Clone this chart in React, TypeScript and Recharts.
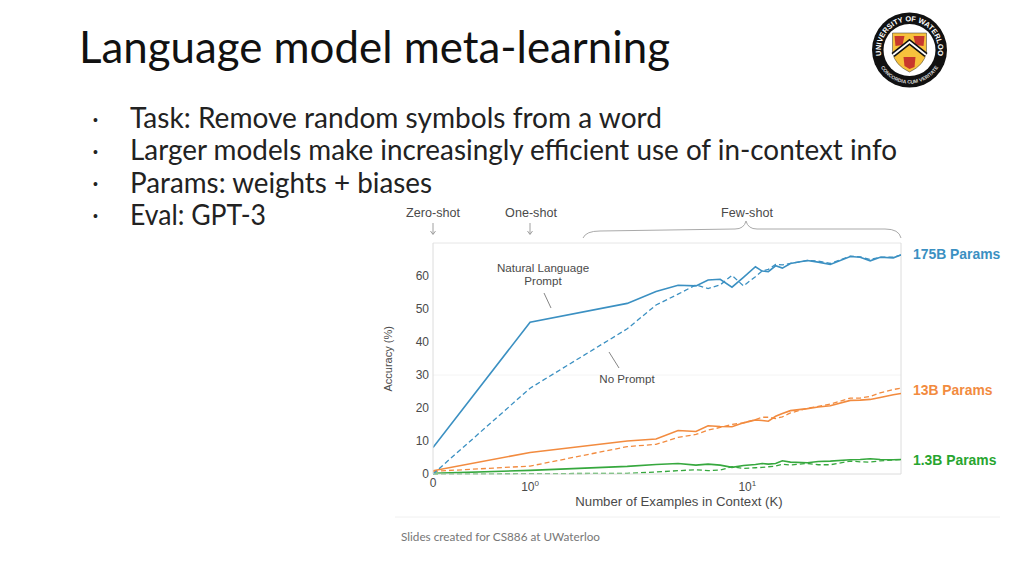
import React from "react";
import { LineChart, Line, XAxis, YAxis, ReferenceLine, Label } from "recharts";

const examplesK = [0, 1, 2.8, 3.8, 4.8, 5.8, 6.6, 7.5, 8.5, 9.6, 10.9, 11.7, 12.5, 13.5, 14.5, 15.8, 18.9, 21.2, 24.1, 29.8, 33.1, 36.8, 40.9, 47, 51];
const blueSolid = [8, 46, 51.7, 55.3, 57.2, 57, 58.8, 59, 56.6, 59.6, 62.8, 61.5, 61.3, 63.1, 62.4, 63.8, 64.7, 64.2, 63.5, 65.9, 65.7, 64.6, 65.7, 65.5, 66.4];
const blueDashed = [0, 26, 44, 51.2, 54.5, 57.3, 56.2, 57.3, 60.2, 57, 59.8, 61.5, 62, 63.5, 63.4, 63.8, 64.7, 64.5, 63.8, 66, 65.8, 65, 65.7, 65.7, 66.4];
const orangeSolid = [1, 6.5, 10, 10.6, 13.2, 12.9, 14.6, 14.4, 14.3, 15.5, 16.4, 16.2, 16, 17.5, 18.3, 19.2, 19.8, 20.3, 20.7, 22.3, 22.4, 22.6, 23.2, 24, 24.4];
const orangeDashed = [0.8, 2.4, 8.3, 9, 11.1, 12, 13.3, 14.1, 15, 15.5, 16.5, 17.2, 17.2, 16.8, 17.3, 18.5, 19.9, 20.5, 21.2, 23, 23, 23.5, 24.6, 25.6, 26];
const greenSolid = [0.2, 1.1, 2.3, 2.9, 3.2, 2.7, 3, 2.7, 2, 2.6, 2.9, 3.2, 3, 3.2, 4, 3.6, 3.4, 3.8, 3.9, 4.3, 4.4, 4.6, 4.4, 4.3, 4.4];
const greenDashed = [0, 0.1, 0.2, 0.6, 1, 1.3, 1, 1.2, 2.2, 1.7, 1.9, 2, 2.2, 2.4, 3, 2.7, 3.2, 2.8, 2.8, 3.9, 3.7, 3.6, 4, 4.2, 4.4];
const yTicks = [0, 10, 20, 30, 40, 50, 60];
const bullets = ["Task: Remove random symbols from a word", "Larger models make increasingly efficient use of in-context info", "Params: weights + biases", "Eval: GPT-3"];
const bulletWidths = [532, 767, 302, 136];

const ZERO_POS = -0.447;
const MAX_POS = Math.log10(51);
const pos = (k: number) => (k === 0 ? ZERO_POS : Math.log10(k));
const rows = examplesK.map((k, i) => ({
  x: pos(k),
  blueSolid: blueSolid[i],
  blueDashed: blueDashed[i],
  orangeSolid: orangeSolid[i],
  orangeDashed: orangeDashed[i],
  greenSolid: greenSolid[i],
  greenDashed: greenDashed[i],
}));

const BLUE = "#3b90c2";
const ORANGE = "#f28b3f";
const GREEN = "#36a83e";
const GREY = "#4a4a4a";
const ARIAL = '"Liberation Sans", Arial, sans-serif';
const LATO = 'Lato, "Open Sans", sans-serif';

function XTick(props: any) {
  const { x, y, payload } = props;
  const v = payload.value;
  if (v === ZERO_POS) {
    return <text x={x} y={y + 5} textAnchor="middle" fontSize={12} fill={GREY} fontFamily={ARIAL}>0</text>;
  }
  return (
    <text x={x} y={y + 9} textAnchor="middle" fontSize={12} fill={GREY} fontFamily={ARIAL}>
      10<tspan dy={-5} fontSize={8}>{v === 0 ? "0" : "1"}</tspan>
    </text>
  );
}

function Logo() {
  const cx = 909.5, cy = 50;
  return (
    <g>
      <defs>
        <path id="topArc" d={`M ${cx - 24.9} ${cy + 14} A 28.6 28.6 0 1 1 ${cx + 24.9} ${cy + 14}`} />
        <path id="botArc" d={`M ${cx - 31} ${cy + 13} A 33.6 33.6 0 0 0 ${cx + 31} ${cy + 13}`} />
      </defs>
      <circle cx={cx} cy={cy} r={37.5} fill="#111" />
      <circle cx={cx} cy={cy} r={26} fill="#fff" />
      <text fontSize={7.4} fill="#fff" fontFamily={ARIAL} fontWeight={700}>
        <textPath href="#topArc" startOffset="50%" textAnchor="middle">UNIVERSITY OF WATERLOO</textPath>
      </text>
      <text fontSize={5} fill="#ddd" fontFamily={ARIAL} fontWeight={700}>
        <textPath href="#botArc" startOffset="50%" textAnchor="middle">CONCORDIA CUM VERITATE</textPath>
      </text>
      <path d={`M ${cx - 17} 33 L ${cx + 17} 33 L ${cx + 17} 52 Q ${cx + 15} 65 ${cx} 72 Q ${cx - 15} 65 ${cx - 17} 52 Z`} fill="#f7c23c" stroke="#333" strokeWidth={0.5} />
      <path d={`M ${cx - 15} 36 L ${cx - 5} 36 L ${cx - 7} 45 L ${cx - 14} 46 Z`} fill="#c8382c" />
      <path d={`M ${cx + 4} 36 L ${cx + 15} 36 L ${cx + 14} 46 L ${cx + 6} 45 Z`} fill="#c8382c" />
      <path d={`M ${cx - 6} 57 L ${cx + 6} 57 L ${cx + 5} 67 L ${cx} 69 L ${cx - 5} 66 Z`} fill="#c8382c" />
      <path d={`M ${cx - 16.5} 55 L ${cx} 42 L ${cx + 16.5} 55`} fill="none" stroke="#111" strokeWidth={5} />
      <path d={`M ${cx - 16.5} 55 L ${cx} 42 L ${cx + 16.5} 55`} fill="none" stroke="#fff" strokeWidth={1.8} />
    </g>
  );
}

function Overlay() {
  const t = { fontFamily: ARIAL, fill: GREY, fontSize: 11.6 } as const;
  const h = { fontFamily: ARIAL, fill: GREY, fontSize: 12.6 } as const;
  return (
    <svg width={1024} height={576} style={{ position: "absolute", left: 0, top: 0, pointerEvents: "none" }}>
      <text x={79} y={63} fontFamily={LATO} fontSize={44} fill="#111" textLength={591} lengthAdjust="spacingAndGlyphs">Language model meta-learning</text>
      {bullets.map((b, i) => (
        <g key={b}>
          <text x={93} y={[125, 157, 189, 221][i]} fontFamily={ARIAL} fontSize={14} fill="#222">•</text>
          <text x={130} y={[128, 160, 193, 225][i]} fontFamily={LATO} fontSize={28} fill="#222" textLength={bulletWidths[i]} lengthAdjust="spacingAndGlyphs">{b}</text>
        </g>
      ))}
      <Logo />
      <text {...h} x={433} y={217} textAnchor="middle">Zero-shot</text>
      <text {...h} x={531} y={217} textAnchor="middle">One-shot</text>
      <text {...h} x={747} y={217} textAnchor="middle">Few-shot</text>
      <path d="M433 223V234M430.5 231L433 234.5L435.5 231M530 223V234M527.5 231L530 234.5L532.5 231" fill="none" stroke="#888" strokeWidth={0.8} />
      <path d="M583 238Q586 231 600 231L735 229Q744 229 746 221Q748 229 757 229L885 229Q899 229 901 238" fill="none" stroke="#aaa" strokeWidth={1} />
      <text {...t} x={543} y={272} textAnchor="middle">Natural Language</text>
      <text {...t} x={543} y={285} textAnchor="middle">Prompt</text>
      <path d="M544 293L551 308M609 352L619 368" stroke="#666" strokeWidth={0.8} />
      <text {...t} x={627} y={383} textAnchor="middle">No Prompt</text>
      <text x={913} y={259} fontFamily={ARIAL} fontSize={13.9} fontWeight={700} fill={BLUE}>175B Params</text>
      <text x={913} y={395} fontFamily={ARIAL} fontSize={13.9} fontWeight={700} fill={ORANGE}>13B Params</text>
      <text x={913} y={465} fontFamily={ARIAL} fontSize={13.9} fontWeight={700} fill="#27a52f">1.3B Params</text>
      <line x1={395} x2={1000} y1={517} y2={517} stroke="#f0f0f0" />
      <text x={401} y={541} fontFamily={LATO} fontSize={12} fill="#777" textLength={199} lengthAdjust="spacingAndGlyphs">Slides created for CS886 at UWaterloo</text>
    </svg>
  );
}

export default function App() {
  return (
    <div style={{ position: "absolute", left: 0, top: 0, width: 1024, height: 576, background: "#fff", overflow: "hidden" }}>
      <LineChart width={1024} height={576} data={rows} margin={{ top: 243, left: 393, right: 123, bottom: 62 }}>
        <XAxis
          dataKey="x"
          type="number"
          domain={[ZERO_POS, MAX_POS]}
          ticks={[ZERO_POS, 0, 1]}
          height={40}
          tick={<XTick />}
          tickLine={false}
          axisLine={{ stroke: "#dcdcdc" }}
          interval={0}
          allowDataOverflow
        >
          <Label value="Number of Examples in Context  (K)" position="insideBottom" offset={8} dx={12} fontSize={13.2} fill={GREY} fontFamily={ARIAL} />
        </XAxis>
        <YAxis
          type="number"
          domain={[0, 70]}
          ticks={yTicks}
          width={40}
          tickLine={false}
          tickMargin={1}
          axisLine={{ stroke: "#dcdcdc" }}
          tick={{ fontSize: 12, fill: GREY, fontFamily: ARIAL, dx: 3 }}
          interval={0}
        >
          <Label value="Accuracy (%)" angle={-90} position="insideLeft" offset={0} dx={-5} dy={33} fontSize={11} fill={GREY} fontFamily={ARIAL} />
        </YAxis>
        <ReferenceLine y={70} stroke="#e6e6e6" />
        <ReferenceLine y={30} stroke="#f4f4f4" />
        <ReferenceLine x={MAX_POS} stroke="#dcdcdc" />
        <Line dataKey="greenDashed" stroke={GREEN} strokeWidth={1.3} strokeDasharray="5 3" dot={false} isAnimationActive={false} />
        <Line dataKey="greenSolid" stroke={GREEN} strokeWidth={1.6} dot={false} isAnimationActive={false} />
        <Line dataKey="orangeDashed" stroke={ORANGE} strokeWidth={1.3} strokeDasharray="5 3" dot={false} isAnimationActive={false} />
        <Line dataKey="orangeSolid" stroke={ORANGE} strokeWidth={1.6} dot={false} isAnimationActive={false} />
        <Line dataKey="blueDashed" stroke={BLUE} strokeWidth={1.3} strokeDasharray="5 3" dot={false} isAnimationActive={false} />
        <Line dataKey="blueSolid" stroke={BLUE} strokeWidth={1.6} dot={false} isAnimationActive={false} />
      </LineChart>
      <Overlay />
    </div>
  );
}
